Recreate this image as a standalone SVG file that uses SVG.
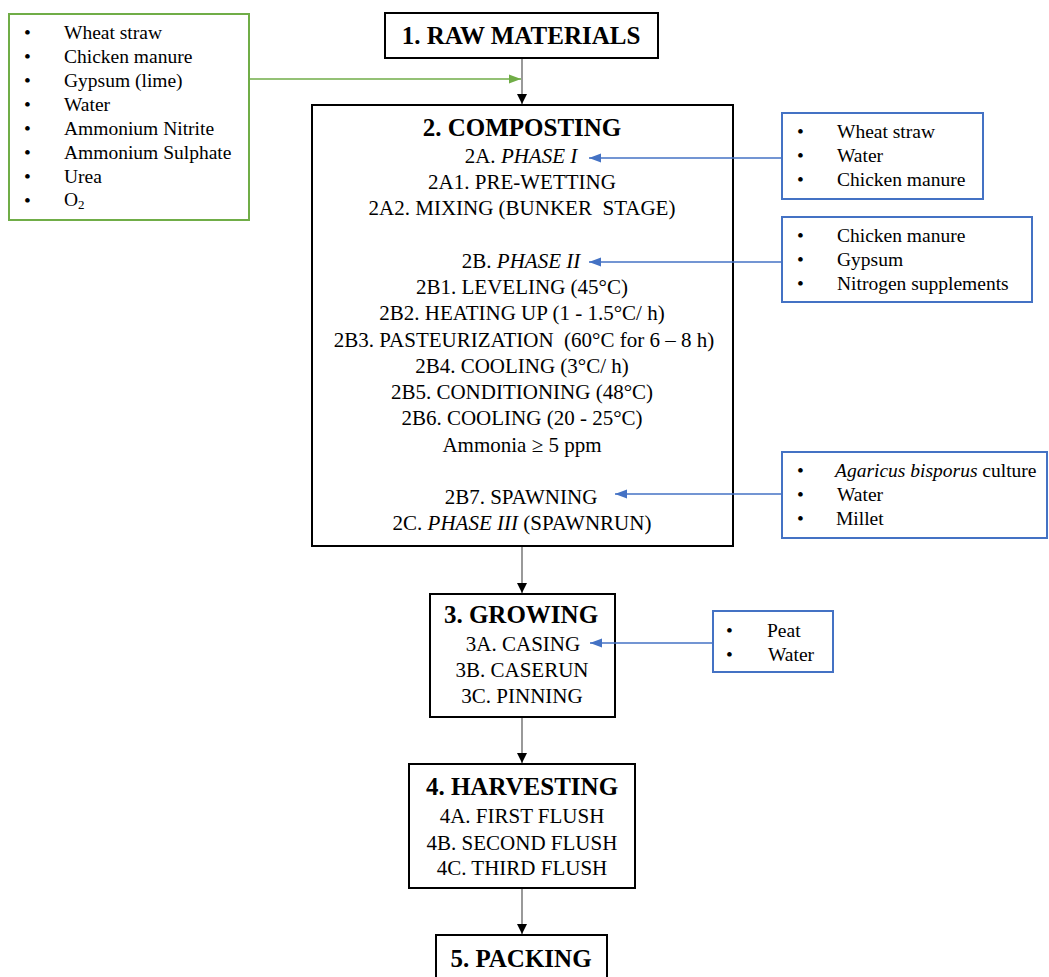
<svg xmlns="http://www.w3.org/2000/svg" width="1049" height="977" viewBox="0 0 1049 977">
<style>
.box{fill:#fff;stroke:#000;stroke-width:2}
.gbox{fill:#fff;stroke:#70AD47;stroke-width:2}
.bbox{fill:#fff;stroke:#4472C4;stroke-width:2}
text{font-family:"Liberation Serif","Times New Roman",serif;fill:#000}
.title{font-size:25px;font-weight:bold;text-anchor:middle}
.body{font-size:21px;text-anchor:middle}
.list{font-size:19.5px}
.it{font-style:italic}
.main{stroke:#808080;stroke-width:1.6;fill:none}
.blue{stroke:#4472C4;stroke-width:1.3;fill:none}
.green{stroke:#70AD47;stroke-width:1.3;fill:none}
</style>
<defs>
<marker id="ah" markerUnits="userSpaceOnUse" markerWidth="12" markerHeight="12" viewBox="0 0 12 12" refX="11" refY="6" orient="auto">
<path d="M1,1 L11,6 L1,11 Z" fill="#000"/>
</marker>
<marker id="ab" markerUnits="userSpaceOnUse" markerWidth="14" markerHeight="12" viewBox="0 0 14 12" refX="13" refY="6" orient="auto">
<path d="M1,1.5 L13,6 L1,10.5 Z" fill="#4472C4"/>
</marker>
<marker id="ag" markerUnits="userSpaceOnUse" markerWidth="14" markerHeight="12" viewBox="0 0 14 12" refX="13" refY="6" orient="auto">
<path d="M1,1.5 L13,6 L1,10.5 Z" fill="#70AD47"/>
</marker>
</defs>
<g id="inputs-raw">
<rect class="gbox" x="9" y="14" width="240" height="206"/>
<text class="list" x="24" y="39">•</text><text class="list" x="64" y="39">Wheat straw</text>
<text class="list" x="24" y="63">•</text><text class="list" x="64" y="63">Chicken manure</text>
<text class="list" x="24" y="87">•</text><text class="list" x="64" y="87">Gypsum (lime)</text>
<text class="list" x="24" y="111">•</text><text class="list" x="64" y="111">Water</text>
<text class="list" x="24" y="135">•</text><text class="list" x="64" y="135">Ammonium Nitrite</text>
<text class="list" x="24" y="159">•</text><text class="list" x="64" y="159">Ammonium Sulphate</text>
<text class="list" x="24" y="183">•</text><text class="list" x="64" y="183">Urea</text>
<text class="list" x="24" y="207">•</text><text class="list" x="64" y="206">O<tspan font-size="13" dy="3">2</tspan></text>
</g>
<g id="raw-materials">
<rect class="box" x="385" y="13" width="273" height="45"/>
<text class="title" x="521" y="44">1. RAW MATERIALS</text>
</g>
<g id="composting">
<rect class="box" x="312" y="105" width="421" height="441"/>
<text class="title" x="522" y="136">2. COMPOSTING</text>
<text class="body" x="521" y="163">2A. <tspan class="it">PHASE I</tspan></text>
<text class="body" x="522" y="189">2A1. PRE-WETTING</text>
<text class="body" x="522" y="215">2A2. MIXING (BUNKER&#160; STAGE)</text>
<text class="body" x="521" y="268">2B. <tspan class="it">PHASE II</tspan></text>
<text class="body" x="522" y="294">2B1. LEVELING (45°C)</text>
<text class="body" x="522" y="320">2B2. HEATING UP (1 - 1.5°C/ h)</text>
<text class="body" x="524" y="347">2B3. PASTEURIZATION&#160; (60°C for 6 – 8 h)</text>
<text class="body" x="522" y="373">2B4. COOLING (3°C/ h)</text>
<text class="body" x="522" y="399">2B5. CONDITIONING (48°C)</text>
<text class="body" x="522" y="425">2B6. COOLING (20 - 25°C)</text>
<text class="body" x="522" y="452">Ammonia ≥ 5 ppm</text>
<text class="body" x="521" y="504">2B7. SPAWNING</text>
<text class="body" x="522" y="530">2C. <tspan class="it">PHASE III</tspan> (SPAWNRUN)</text>
</g>
<g id="inputs-phase1">
<rect class="bbox" x="782" y="113" width="201" height="86"/>
<text class="list" x="797" y="138">•</text><text class="list" x="837" y="138">Wheat straw</text>
<text class="list" x="797" y="162">•</text><text class="list" x="837" y="162">Water</text>
<text class="list" x="797" y="186">•</text><text class="list" x="837" y="186">Chicken manure</text>
</g>
<g id="inputs-phase2">
<rect class="bbox" x="782" y="217" width="250" height="85"/>
<text class="list" x="797" y="242">•</text><text class="list" x="837" y="242">Chicken manure</text>
<text class="list" x="797" y="266">•</text><text class="list" x="837" y="266">Gypsum</text>
<text class="list" x="797" y="290">•</text><text class="list" x="837" y="290">Nitrogen supplements</text>
</g>
<g id="inputs-spawning">
<rect class="bbox" x="782" y="452" width="265" height="86"/>
<text class="list" x="797" y="477">•</text><text class="list" x="835" y="477"><tspan class="it">Agaricus bisporus</tspan> culture</text>
<text class="list" x="797" y="501">•</text><text class="list" x="837" y="501">Water</text>
<text class="list" x="797" y="525">•</text><text class="list" x="836" y="525">Millet</text>
</g>
<g id="growing">
<rect class="box" x="430" y="594" width="185" height="123"/>
<text class="title" x="521" y="623">3. GROWING</text>
<text class="body" x="523" y="651">3A. CASING</text>
<text class="body" x="522" y="677">3B. CASERUN</text>
<text class="body" x="522" y="703">3C. PINNING</text>
</g>
<g id="inputs-casing">
<rect class="bbox" x="713" y="611" width="120" height="61"/>
<text class="list" x="726" y="637">•</text><text class="list" x="767" y="637">Peat</text>
<text class="list" x="726" y="661">•</text><text class="list" x="768" y="661">Water</text>
</g>
<g id="harvesting">
<rect class="box" x="409" y="764" width="226" height="124"/>
<text class="title" x="522" y="795">4. HARVESTING</text>
<text class="body" x="522" y="823">4A. FIRST FLUSH</text>
<text class="body" x="522" y="850">4B. SECOND FLUSH</text>
<text class="body" x="522" y="875">4C. THIRD FLUSH</text>
</g>
<g id="packing">
<rect class="box" x="436" y="935" width="171" height="60"/>
<text class="title" x="521" y="967">5. PACKING</text>
</g>
<g id="connectors">
<line class="main" x1="522" y1="59" x2="522" y2="104" marker-end="url(#ah)"/>
<line class="green" x1="250" y1="79" x2="521" y2="79" marker-end="url(#ag)"/>
<line class="main" x1="522" y1="547" x2="522" y2="593" marker-end="url(#ah)"/>
<line class="main" x1="522" y1="718" x2="522" y2="763" marker-end="url(#ah)"/>
<line class="main" x1="522" y1="889" x2="522" y2="934" marker-end="url(#ah)"/>
<line class="blue" x1="781" y1="158" x2="589" y2="158" marker-end="url(#ab)"/>
<line class="blue" x1="781" y1="262" x2="589" y2="262" marker-end="url(#ab)"/>
<line class="blue" x1="781" y1="494" x2="615" y2="494" marker-end="url(#ab)"/>
<line class="blue" x1="712" y1="643" x2="590" y2="643" marker-end="url(#ab)"/>
</g>
</svg>
